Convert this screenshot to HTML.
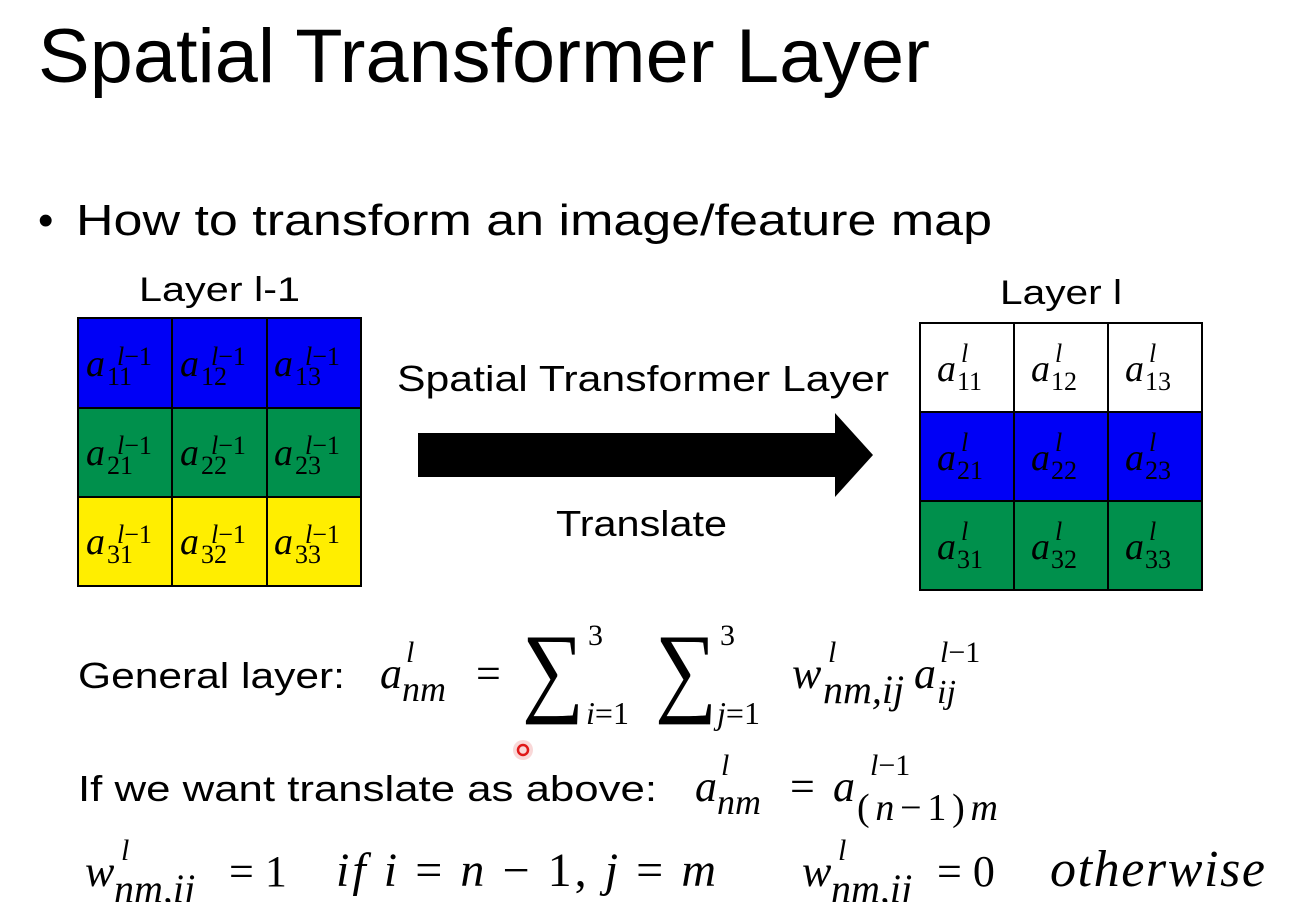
<!DOCTYPE html>
<html><head><meta charset="utf-8"><style>
html,body{margin:0;padding:0;background:#fff;}
svg{display:block;}
.s{font-family:"Liberation Sans",sans-serif;fill:#000;}
.m{font-family:"Liberation Serif",serif;font-style:italic;fill:#000;}
.n{font-family:"Liberation Serif",serif;fill:#000;}
</style></head><body>
<svg width="1290" height="902" viewBox="0 0 1290 902" xmlns="http://www.w3.org/2000/svg" xml:space="preserve">
<rect width="1290" height="902" fill="#fff"/>
<text class="s" x="38" y="82" font-size="76" textLength="892" lengthAdjust="spacingAndGlyphs">Spatial Transformer Layer</text>
<text class="s" x="38" y="235" font-size="44">•</text>
<text class="s" x="76" y="235" font-size="44" textLength="916" lengthAdjust="spacingAndGlyphs">How to transform an image/feature map</text>
<text class="s" x="139" y="301" font-size="34" textLength="161" lengthAdjust="spacingAndGlyphs">Layer l-1</text>
<text class="s" x="1000" y="304" font-size="34" textLength="122" lengthAdjust="spacingAndGlyphs">Layer l</text>
<text class="s" x="397" y="391" font-size="36" textLength="492" lengthAdjust="spacingAndGlyphs">Spatial Transformer Layer</text>
<text class="s" x="556" y="536" font-size="36" textLength="171" lengthAdjust="spacingAndGlyphs">Translate</text>

<!-- left grid -->
<rect x="78" y="318" width="283" height="90" fill="#0000f6"/>
<rect x="78" y="408" width="283" height="89" fill="#00904c"/>
<rect x="78" y="497" width="283" height="89" fill="#ffee00"/>
<g stroke="#000" stroke-width="2" fill="none">
<rect x="78" y="318" width="283" height="268"/>
<line x1="172" y1="318" x2="172" y2="586"/><line x1="267" y1="318" x2="267" y2="586"/>
<line x1="78" y1="408" x2="361" y2="408"/><line x1="78" y1="497" x2="361" y2="497"/>
</g>
<g font-size="38">
<text class="m" x="86" y="376">a</text><text class="n" x="107" y="385" font-size="26">11</text><text class="m" x="117" y="365" font-size="26">l<tspan font-style="normal">−1</tspan></text>
<text class="m" x="180" y="376">a</text><text class="n" x="201" y="385" font-size="26">12</text><text class="m" x="211" y="365" font-size="26">l<tspan font-style="normal">−1</tspan></text>
<text class="m" x="274" y="376">a</text><text class="n" x="295" y="385" font-size="26">13</text><text class="m" x="305" y="365" font-size="26">l<tspan font-style="normal">−1</tspan></text>
<text class="m" x="86" y="465">a</text><text class="n" x="107" y="474" font-size="26">21</text><text class="m" x="117" y="454" font-size="26">l<tspan font-style="normal">−1</tspan></text>
<text class="m" x="180" y="465">a</text><text class="n" x="201" y="474" font-size="26">22</text><text class="m" x="211" y="454" font-size="26">l<tspan font-style="normal">−1</tspan></text>
<text class="m" x="274" y="465">a</text><text class="n" x="295" y="474" font-size="26">23</text><text class="m" x="305" y="454" font-size="26">l<tspan font-style="normal">−1</tspan></text>
<text class="m" x="86" y="554">a</text><text class="n" x="107" y="563" font-size="26">31</text><text class="m" x="117" y="543" font-size="26">l<tspan font-style="normal">−1</tspan></text>
<text class="m" x="180" y="554">a</text><text class="n" x="201" y="563" font-size="26">32</text><text class="m" x="211" y="543" font-size="26">l<tspan font-style="normal">−1</tspan></text>
<text class="m" x="274" y="554">a</text><text class="n" x="295" y="563" font-size="26">33</text><text class="m" x="305" y="543" font-size="26">l<tspan font-style="normal">−1</tspan></text>
</g>

<!-- arrow -->
<polygon points="418,433 835,433 835,413 873,455 835,497 835,477 418,477" fill="#000"/>

<!-- right grid -->
<rect x="920" y="412" width="282" height="89" fill="#0000f6"/>
<rect x="920" y="501" width="282" height="89" fill="#00904c"/>
<g stroke="#000" stroke-width="2" fill="none">
<rect x="920" y="323" width="282" height="267"/>
<line x1="1014" y1="323" x2="1014" y2="590"/><line x1="1108" y1="323" x2="1108" y2="590"/>
<line x1="920" y1="412" x2="1202" y2="412"/><line x1="920" y1="501" x2="1202" y2="501"/>
</g>
<g font-size="38">
<text class="m" x="937" y="381">a</text><text class="n" x="957" y="390" font-size="26">11</text><text class="m" x="961" y="362" font-size="26">l</text>
<text class="m" x="1031" y="381">a</text><text class="n" x="1051" y="390" font-size="26">12</text><text class="m" x="1055" y="362" font-size="26">l</text>
<text class="m" x="1125" y="381">a</text><text class="n" x="1145" y="390" font-size="26">13</text><text class="m" x="1149" y="362" font-size="26">l</text>
<text class="m" x="937" y="470">a</text><text class="n" x="957" y="479" font-size="26">21</text><text class="m" x="961" y="451" font-size="26">l</text>
<text class="m" x="1031" y="470">a</text><text class="n" x="1051" y="479" font-size="26">22</text><text class="m" x="1055" y="451" font-size="26">l</text>
<text class="m" x="1125" y="470">a</text><text class="n" x="1145" y="479" font-size="26">23</text><text class="m" x="1149" y="451" font-size="26">l</text>
<text class="m" x="937" y="559">a</text><text class="n" x="957" y="568" font-size="26">31</text><text class="m" x="961" y="540" font-size="26">l</text>
<text class="m" x="1031" y="559">a</text><text class="n" x="1051" y="568" font-size="26">32</text><text class="m" x="1055" y="540" font-size="26">l</text>
<text class="m" x="1125" y="559">a</text><text class="n" x="1145" y="568" font-size="26">33</text><text class="m" x="1149" y="540" font-size="26">l</text>
</g>

<!-- General layer -->
<text class="s" x="78" y="688" font-size="36" textLength="267" lengthAdjust="spacingAndGlyphs">General layer:</text>
<text class="m" x="380" y="688" font-size="44">a</text>
<text class="m" x="406" y="662" font-size="30">l</text>
<text class="m" x="402" y="701" font-size="36">nm</text>
<text class="n" x="476" y="688" font-size="44">=</text>
<text class="n" x="522" y="703" font-size="100" textLength="62" lengthAdjust="spacingAndGlyphs">∑</text>
<text class="n" x="588" y="645" font-size="30">3</text>
<text class="m" x="586" y="724" font-size="32">i<tspan font-style="normal">=1</tspan></text>
<text class="n" x="655" y="703" font-size="100" textLength="62" lengthAdjust="spacingAndGlyphs">∑</text>
<text class="n" x="720" y="645" font-size="30">3</text>
<text class="m" x="717" y="724" font-size="32">j<tspan font-style="normal">=1</tspan></text>
<text class="m" x="792" y="688" font-size="44">w</text>
<text class="m" x="828" y="662" font-size="30">l</text>
<text class="m" x="823" y="703" font-size="40">nm,ij</text>
<text class="m" x="914" y="688" font-size="44">a</text>
<text class="m" x="940" y="662" font-size="30">l<tspan font-style="normal">−1</tspan></text>
<text class="m" x="937" y="703" font-size="34">ij</text>

<!-- translate line -->
<text class="s" x="78" y="801" font-size="36" textLength="579" lengthAdjust="spacingAndGlyphs">If we want translate as above:</text>
<text class="m" x="695" y="801" font-size="44">a</text>
<text class="m" x="721" y="775" font-size="30">l</text>
<text class="m" x="717" y="814" font-size="36">nm</text>
<text class="n" x="790" y="801" font-size="44">=</text>
<text class="m" x="833" y="801" font-size="44">a</text>
<text class="m" x="870" y="775" font-size="30">l<tspan font-style="normal">−1</tspan></text>
<text class="m" x="857" y="820" font-size="38" textLength="141" lengthAdjust="spacing"><tspan font-style="normal">(</tspan>n<tspan font-style="normal">−1)</tspan>m</text>

<!-- bottom line -->
<text class="m" x="85" y="886" font-size="44">w</text>
<text class="m" x="121" y="860" font-size="30">l</text>
<text class="m" x="114" y="902" font-size="40">nm,ij</text>
<text class="n" x="229" y="886" font-size="44">=  1</text>
<text class="m" x="336" y="886" font-size="48" textLength="380" lengthAdjust="spacing">if  i <tspan font-style="normal">=</tspan> n <tspan font-style="normal">− 1,</tspan>  j <tspan font-style="normal">=</tspan> m</text>
<text class="m" x="802" y="886" font-size="44">w</text>
<text class="m" x="838" y="860" font-size="30">l</text>
<text class="m" x="831" y="902" font-size="40">nm,ij</text>
<text class="n" x="937" y="886" font-size="44">=  0</text>
<text class="m" x="1050" y="886" font-size="52" textLength="215" lengthAdjust="spacing">otherwise</text>

<!-- cursor dot -->
<circle cx="523" cy="750" r="10" fill="#f7c8c8" opacity="0.7"/>
<circle cx="523" cy="750" r="5" fill="none" stroke="#e01818" stroke-width="2.5"/>
</svg>
</body></html>
